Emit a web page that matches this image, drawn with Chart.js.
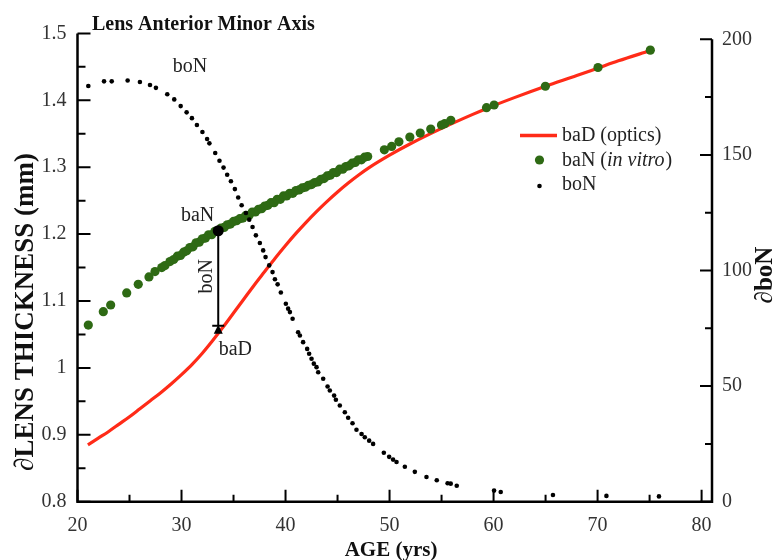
<!DOCTYPE html>
<html>
<head>
<meta charset="utf-8">
<script src="https://cdn.jsdelivr.net/npm/chart.js@4.4.1/dist/chart.umd.min.js"></script>
<style>
html, body { margin: 0; padding: 0; background: #fff; }
</style>
</head>
<body>
<canvas id="myChart" width="773" height="560"></canvas>
<script>
// baD (optics) - red curve, left axis
let redAge = [21, 22, 23, 24, 25, 26, 27, 28, 29, 30, 31, 32, 33, 34, 35, 36, 37, 38, 39, 40, 41, 42, 43, 44, 45, 46, 47, 48, 50, 52, 55, 58, 60, 62, 65, 68, 70, 72, 75];
let redThick = [0.885, 0.895, 0.905, 0.916, 0.927, 0.939, 0.951, 0.963, 0.976, 0.990, 1.005, 1.022, 1.041, 1.061, 1.082, 1.103, 1.124, 1.144, 1.164, 1.183, 1.201, 1.218, 1.234, 1.249, 1.263, 1.276, 1.288, 1.299, 1.318, 1.335, 1.358, 1.379, 1.392, 1.404, 1.421, 1.437, 1.448, 1.459, 1.474];

// baN (in vitro) - green dots, left axis
let greenAge = [21.04, 22.48, 23.19, 24.73, 25.84, 26.87, 27.45, 28.1, 28.41, 28.89, 29.25,
    29.6, 29.9, 30.2, 30.5, 30.8, 31.1, 31.4, 31.7, 32.0, 32.3, 32.6, 32.9, 33.2, 33.5, 33.8, 34.1, 34.4, 34.7,
    35.0, 35.3, 35.6, 35.9, 36.2, 36.5, 36.8, 37.1, 37.4, 37.7, 38.0, 38.3, 38.6, 38.9, 39.2, 39.5, 39.8,
    40.1, 40.4, 40.7, 41.0, 41.3, 41.6, 41.9, 42.2, 42.5, 42.8, 43.1, 43.4, 43.7, 44.0, 44.3, 44.6, 44.9,
    45.2, 45.5, 45.8, 46.1, 46.4, 46.7, 47.0, 47.3, 47.6, 47.9,
    49.5, 50.2, 50.9, 51.95, 52.95, 53.96, 54.99, 55.3, 55.89, 59.32, 60.05, 64.98, 70.04, 75.07];
let greenThick = [1.064, 1.084, 1.094, 1.112, 1.125, 1.136, 1.144, 1.150, 1.153, 1.159, 1.162,
    1.167, 1.168, 1.173, 1.175, 1.180, 1.181, 1.187, 1.188, 1.193, 1.194, 1.199, 1.199, 1.204, 1.205, 1.209, 1.210, 1.214, 1.215,
    1.219, 1.220, 1.223, 1.224, 1.228, 1.228, 1.233, 1.233, 1.237, 1.238, 1.242, 1.243, 1.247, 1.247, 1.252, 1.252, 1.257,
    1.257, 1.261, 1.261, 1.265, 1.266, 1.269, 1.270, 1.273, 1.274, 1.277, 1.278, 1.282, 1.283, 1.287, 1.288, 1.292, 1.292,
    1.297, 1.297, 1.301, 1.302, 1.306, 1.307, 1.311, 1.311, 1.315, 1.316,
    1.326, 1.331, 1.338, 1.345, 1.351, 1.357, 1.363, 1.365, 1.370, 1.389, 1.393, 1.421, 1.449, 1.475];

// boN - small black dots, right axis
let boNAge = [21.04, 22.55, 23.29, 24.82, 26.0, 26.97, 27.54, 28.63, 29.30, 29.92, 30.49, 31.0, 31.48, 32.01, 32.46, 32.68,
    33.24, 33.65, 34.04, 34.39, 34.75, 35.13, 35.45, 35.78, 36.19, 36.51, 36.83, 37.15, 37.53, 37.85, 38.08, 38.43,
    38.75, 38.98, 39.24, 39.55, 40.03, 40.25, 40.42, 40.68, 41.21, 41.38, 41.69, 42.08, 42.27, 42.50, 42.72, 42.98,
    43.14, 43.62, 44.04, 44.26, 44.67, 44.84, 45.22, 45.70, 46.02, 46.44, 46.82, 47.31, 47.62, 48.04, 48.42, 49.45,
    49.96, 50.34, 50.67, 51.47, 52.43, 53.55, 54.54, 55.58, 55.88, 56.46, 60.05, 60.69, 65.71, 70.85, 75.90];
let boNVal = [179.8, 181.8, 181.8, 182.2, 181.5, 180.2, 179.0, 176.2, 174.0, 171.1, 168.4, 165.9, 162.9, 159.9, 156.9, 155.0,
    150.8, 147.5, 144.5, 141.4, 138.6, 135.2, 131.6, 128.2, 124.9, 122.0, 118.8, 115.2, 111.9, 108.7, 105.8, 102.2,
    99.3, 96.2, 94.0, 90.5, 85.6, 83.5, 82.0, 79.1, 73.3, 71.9, 69.0, 66.1, 64.0, 61.8, 59.7, 58.2,
    56.0, 53.2, 49.8, 48.1, 45.9, 44.1, 41.6, 38.7, 36.3, 33.9, 31.1, 29.3, 27.9, 26.4, 25.0, 21.2,
    19.4, 18.2, 17.2, 15.1, 12.9, 10.7, 9.3, 8.0, 7.8, 6.9, 4.8, 4.2, 2.9, 2.5, 2.3];

// axis ticks
let xTicks = [20, 25, 30, 35, 40, 45, 50, 55, 60, 65, 70, 75, 80];
let yTicks = [0.8, 0.85, 0.9, 0.95, 1, 1.05, 1.1, 1.15, 1.2, 1.25, 1.3, 1.35, 1.4, 1.45, 1.5];
let y2Ticks = [0, 25, 50, 75, 100, 125, 150, 175, 200];

const serif = "'Liberation Serif', 'Times New Roman', serif";
const red = '#ff2b18';
const green = '#2e6a14';

function pts(xs, ys) {
    return xs.map((x, i) => ({x: x, y: ys[i]}));
}
function isMajor(v, step) {
    return Math.abs(v / step - Math.round(v / step)) < 1e-6;
}

const decor = {
    id: 'decor',
    afterDatasetsDraw(chart) {
        const {ctx, scales} = chart;
        const x = scales.x, y = scales.y;
        // baN -> baD marker
        const px = x.getPixelForValue(33.53);
        const pTop = y.getPixelForValue(1.205);
        const pBot = y.getPixelForValue(1.063);
        ctx.save();
        ctx.strokeStyle = '#000';
        ctx.fillStyle = '#000';
        ctx.lineWidth = 2;
        ctx.beginPath();
        ctx.moveTo(px, pTop);
        ctx.lineTo(px, pBot);
        ctx.moveTo(px - 6, pBot);
        ctx.lineTo(px + 6, pBot);
        ctx.stroke();
        ctx.beginPath();
        ctx.moveTo(px, pBot - 1);
        ctx.lineTo(px - 4.5, pBot + 8);
        ctx.lineTo(px + 4.5, pBot + 8);
        ctx.closePath();
        ctx.fill();
        ctx.beginPath();
        ctx.arc(px, pTop, 5.5, 0, Math.PI * 2);
        ctx.fill();

        ctx.font = '20px ' + serif;
        ctx.fillStyle = '#222';
        ctx.textAlign = 'center';
        ctx.textBaseline = 'middle';
        ctx.fillText('baN', x.getPixelForValue(31.55), y.getPixelForValue(1.228));
        ctx.fillText('baD', x.getPixelForValue(35.18), y.getPixelForValue(1.027));
        ctx.fillText('boN', x.getPixelForValue(30.81), y.getPixelForValue(1.45));
        ctx.save();
        ctx.translate(x.getPixelForValue(32.44), y.getPixelForValue(1.137));
        ctx.rotate(-Math.PI / 2);
        ctx.fillText('boN', 0, 0);
        ctx.restore();
        ctx.restore();
    },
    afterDraw(chart) {
        const {ctx, chartArea: a, scales} = chart;
        ctx.save();
        ctx.strokeStyle = '#000';
        ctx.lineCap = 'butt';
        // axis lines
        ctx.lineWidth = 2.5;
        ctx.beginPath();
        ctx.moveTo(a.left, a.top);
        ctx.lineTo(a.left, a.bottom);
        ctx.moveTo(a.left - 1.25, a.bottom);
        ctx.lineTo(a.right + 1.25, a.bottom);
        ctx.moveTo(a.right, a.bottom);
        ctx.lineTo(a.right, scales.y2.getPixelForValue(200));
        ctx.stroke();
        // inward tick marks
        ctx.lineWidth = 2;
        ctx.beginPath();
        xTicks.forEach(v => {
            const p = scales.x.getPixelForValue(v);
            const len = isMajor(v, 10) ? 12 : 7;
            ctx.moveTo(p, a.bottom);
            ctx.lineTo(p, a.bottom - len);
        });
        yTicks.forEach(v => {
            const p = scales.y.getPixelForValue(v);
            const len = isMajor(v, 0.1) ? 13 : 8;
            ctx.moveTo(a.left, p);
            ctx.lineTo(a.left + len, p);
        });
        y2Ticks.forEach(v => {
            const p = scales.y2.getPixelForValue(v);
            const len = isMajor(v, 50) ? 12 : 7;
            ctx.moveTo(a.right, p);
            ctx.lineTo(a.right - len, p);
        });
        ctx.stroke();

        // legend
        ctx.strokeStyle = red;
        ctx.lineWidth = 3.5;
        ctx.beginPath();
        ctx.moveTo(520, 135.5);
        ctx.lineTo(557, 135.5);
        ctx.stroke();
        ctx.fillStyle = green;
        ctx.beginPath();
        ctx.arc(539.5, 160, 4.6, 0, Math.PI * 2);
        ctx.fill();
        ctx.fillStyle = '#000';
        ctx.beginPath();
        ctx.arc(539.5, 186, 2.3, 0, Math.PI * 2);
        ctx.fill();
        ctx.fillStyle = '#222';
        ctx.textAlign = 'left';
        ctx.textBaseline = 'middle';
        ctx.font = '20px ' + serif;
        ctx.fillText('baD (optics)', 562, 136);
        let tx = 562;
        ctx.fillText('baN (', tx, 161);
        tx += ctx.measureText('baN (').width;
        ctx.font = 'italic 20px ' + serif;
        ctx.fillText('in vitro', tx, 161);
        tx += ctx.measureText('in vitro').width + 1;
        ctx.font = '20px ' + serif;
        ctx.fillText(')', tx, 161);
        ctx.fillText('boN', 562, 185);

        // titles
        ctx.fillStyle = '#111';
        ctx.textBaseline = 'alphabetic';
        ctx.font = 'bold 20px ' + serif;
        ctx.fillText('Lens Anterior Minor Axis', 92, 30);
        ctx.textAlign = 'center';
        ctx.font = 'bold 21px ' + serif;
        ctx.fillText('AGE (yrs)', 391, 556);
        ctx.save();
        ctx.translate(33, 312);
        ctx.rotate(-Math.PI / 2);
        ctx.font = 'bold 27px ' + serif;
        ctx.fillText('\u2202LENS THICKNESS (mm)', 0, 0);
        ctx.restore();
        ctx.save();
        ctx.translate(772, 275);
        ctx.rotate(-Math.PI / 2);
        ctx.font = 'bold 25px ' + serif;
        ctx.fillText('\u2202boN', 0, 0);
        ctx.restore();
        ctx.restore();
    }
};

let data = {
    datasets: [{
        label: 'boN',
        data: pts(boNAge, boNVal),
        yAxisID: 'y2',
        pointRadius: 2.3,
        pointBackgroundColor: '#000',
        pointBorderWidth: 0,
        showLine: false,
        order: 0
    }, {
        label: 'baN (in vitro)',
        data: pts(greenAge, greenThick),
        yAxisID: 'y',
        pointRadius: 4.6,
        pointBackgroundColor: green,
        pointBorderWidth: 0,
        showLine: false,
        order: 1
    }, {
        label: 'baD (optics)',
        data: pts(redAge, redThick),
        yAxisID: 'y',
        pointRadius: 0,
        borderColor: red,
        borderWidth: 3.2,
        showLine: true,
        cubicInterpolationMode: 'monotone',
        order: 2
    }]
};

const tickFont = {family: serif, size: 20};
let options = {
    responsive: false,
    animation: false,
    devicePixelRatio: 1,
    layout: {padding: {top: 33.4, left: 0, right: 0, bottom: 0}},
    plugins: {legend: {display: false}, tooltip: {enabled: false}, title: {display: false}},
    scales: {
        x: {
            type: 'linear',
            position: 'bottom',
            min: 20,
            max: 81,
            afterBuildTicks: s => { s.ticks = xTicks.map(v => ({value: v})); },
            afterFit: s => { s.height = 58.3; },
            ticks: {
                callback: v => isMajor(v, 10) ? String(v) : '',
                font: tickFont, color: '#333', padding: 4,
                autoSkip: false, maxRotation: 0
            },
            grid: {display: false},
            border: {display: false}
        },
        y: {
            type: 'linear',
            position: 'left',
            min: 0.8,
            max: 1.5,
            afterBuildTicks: s => { s.ticks = yTicks.map(v => ({value: v})); },
            afterFit: s => { s.width = 77.5; },
            ticks: {
                callback: v => isMajor(v, 0.1) ? String(Math.round(v * 10) / 10) : '',
                font: tickFont, color: '#333', padding: 3, autoSkip: false
            },
            grid: {display: false},
            border: {display: false}
        },
        y2: {
            type: 'linear',
            position: 'right',
            min: 0,
            max: 202.55,
            afterBuildTicks: s => { s.ticks = y2Ticks.map(v => ({value: v})); },
            afterFit: s => { s.width = 61; },
            ticks: {
                callback: v => isMajor(v, 50) ? String(v) : '',
                font: tickFont, color: '#333', padding: 2, autoSkip: false
            },
            grid: {display: false},
            border: {display: false}
        }
    }
};

const ctx = document.getElementById('myChart');
let myChart = new Chart(ctx, {type: 'scatter', data: data, options: options, plugins: [decor]});
</script>
</body>
</html>
